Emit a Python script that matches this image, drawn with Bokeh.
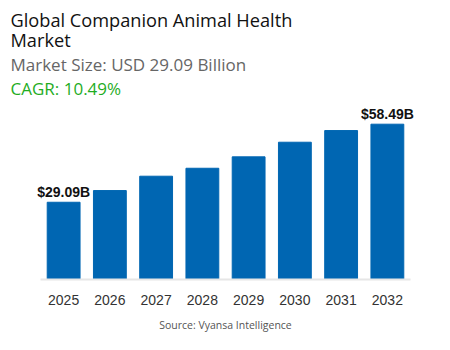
from bokeh.plotting import figure
from bokeh.models import ColumnDataSource, Range1d, FactorRange, Label, Title
from bokeh.core.properties import value
from bokeh.embed import file_html
from bokeh.resources import INLINE

years = ["2025", "2026", "2027", "2028", "2029", "2030", "2031", "2032"]
market = [29.09, 33.5, 38.9, 41.9, 46.2, 51.7, 56.1, 58.49]
label_text = ["$29.09B", "", "", "", "", "", "", "$58.49B"]

title_line1 = "Global Companion Animal Health"
title_line2 = "Market"
subtitle = "Market Size: USD 29.09 Billion"
cagr = "CAGR: 10.49%"
source_note = "Source: Vyansa Intelligence"

font = "Open Sans"

src = ColumnDataSource(dict(year=years, value=market, label=label_text))
p = figure(width=450, height=350, x_range=FactorRange(*years), y_range=Range1d(0, 105.08),
           output_backend="svg", toolbar_location=None, title=None,
           min_border_left=0, min_border_right=0, min_border_top=0, min_border_bottom=71)
p.vbar(x="year", top="value", width=0.71, source=src, color="#0066b2")
p.text(x="year", y="value", text="label", source=src, text_align="center",
       text_baseline="alphabetic", y_offset=-10, text_font=value("Liberation Sans"),
       text_font_size="14px", text_font_style="bold", text_color="#111111")
p.yaxis.visible = False
p.xgrid.visible = False
p.ygrid.visible = False
p.outline_line_color = None
p.x_range.range_padding = 0.865
p.x_range.range_padding_units = "absolute"
p.x_range.factor_padding = 0
p.xaxis.bounds = (0, len(years))
p.xaxis.axis_line_color = "#e6e6e6"
p.xaxis.axis_line_width = 2
p.xaxis.major_tick_line_color = None
p.xaxis.minor_tick_line_color = None
p.xaxis.major_label_standoff = 9
p.xaxis.major_label_text_font = "Liberation Sans"
p.xaxis.major_label_text_font_size = "14px"
p.xaxis.major_label_text_color = "#333333"

# header texts (screen units measured from the plot area's bottom-left)
for txt, y, size, color in [(title_line1, 260, "18.2px", "#111111"),
                            (title_line2, 240, "18.2px", "#111111"),
                            (subtitle, 215, "17px", "#666666"),
                            (cagr, 191, "17px", "#1fad1f")]:
    p.add_layout(Label(x=10, y=y, x_units="screen", y_units="screen", text=txt,
                       text_font=font, text_font_size=size, text_color=color,
                       text_baseline="alphabetic", text_align="left"))

p.add_layout(Title(text=source_note, align="center", standoff=16, text_font=font,
                   text_font_size="10.5px", text_color="#555555",
                   text_font_style="normal"), "below")

open("out.html", "w").write(file_html(p, INLINE))
